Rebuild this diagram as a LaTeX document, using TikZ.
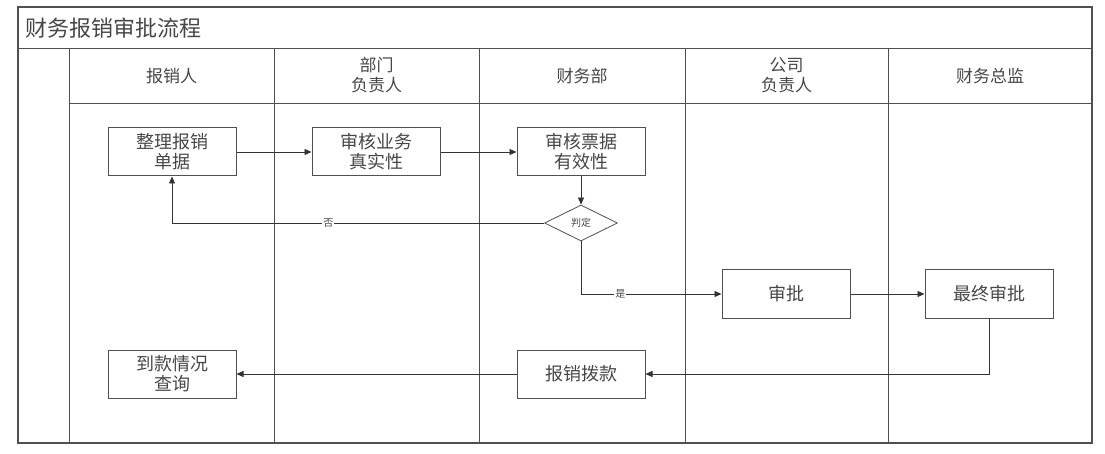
\documentclass[tikz,border=0pt]{standalone}
\usepackage{fontspec}
\setmainfont{Noto Sans CJK SC}
\usetikzlibrary{arrows.meta,shapes.geometric}
\definecolor{linegray}{HTML}{505050}
\definecolor{textgray}{HTML}{474747}

\begin{document}
\begin{tikzpicture}[x=1pt,y=-1pt,
  lane/.style={draw=linegray,line width=0.9pt},
  procbox/.style={draw=linegray,line width=1pt,minimum width=128pt,minimum height=48pt,inner sep=0pt,align=center,text=textgray,font=\fontsize{18}{20}\selectfont},
  decide/.style={diamond,draw=linegray,line width=0.8pt,minimum width=73pt,minimum height=36pt,inner sep=0pt,text=textgray,font=\fontsize{10}{10}\selectfont},
  head/.style={align=center,text=textgray,font=\fontsize{17}{20}\selectfont},
  flow/.style={draw=black!80,line width=0.8pt,-{Triangle[length=7pt,width=6pt]}},
  tag/.style={fill=white,inner sep=1pt,text=textgray,font=\fontsize{10}{10}\selectfont}]
\fill[white] (0,0) rectangle (1105,454);
\useasboundingbox (0,0) rectangle (1105,454);

% frame and lanes
\draw[lane,line width=1.1pt] (18,7) rectangle (1092,443);
\draw[lane] (18,48) -- (1092,48);
\draw[lane] (69,103) -- (1092,103);
\foreach \x in {69,274,479,685,888}
  \draw[lane] (\x,48) -- (\x,443);

\node[anchor=west,text=textgray,font=\fontsize{22}{24}\selectfont] (title) at (22,28) {财务报销审批流程};

\node[head] (h1) at (171.5,76) {报销人};
\node[head] (h2) at (376.5,75) {部门\\负责人};
\node[head] (h3) at (582,76) {财务部};
\node[head] (h4) at (786.5,75) {公司\\负责人};
\node[head] (h5) at (990,76) {财务总监};

\node[procbox] (collect) at (172,152) {整理报销\\单据};
\node[procbox] (verify) at (376,152) {审核业务\\真实性};
\node[procbox] (check) at (581,152) {审核票据\\有效性};
\node[decide] (judge) at (581,223) {判定};
\node[procbox] (approve) at (786,294) {审批};
\node[procbox] (final) at (989,294) {最终审批};
\node[procbox] (pay) at (581,374) {报销拨款};
\node[procbox] (query) at (172,374) {到款情况\\查询};

\draw[flow] (collect) -- (verify);
\draw[flow] (verify) -- (check);
\draw[flow] (check) -- (judge);
\draw[flow] (judge.west) -| node[tag,pos=0.29] {否} (collect.south);
\draw[flow] (judge.south) |- node[tag,pos=0.64] {是} (approve.west);
\draw[flow] (approve) -- (final);
\draw[flow] (final.south) |- (pay.east);
\draw[flow] (pay) -- (query);
\end{tikzpicture}
\end{document}
